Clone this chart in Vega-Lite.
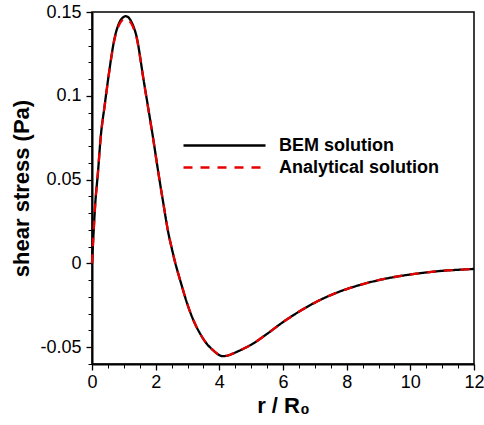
{
  "$schema": "https://vega.github.io/schema/vega-lite/v6.json",
  "width": 382,
  "height": 352,
  "autosize": {"type": "none"},
  "padding": {"left": 92, "top": 12, "right": 10, "bottom": 61},
  "background": "white",
  "config": {
    "font": "Liberation Sans",
    "view": {"stroke": "black", "strokeWidth": 1.5},
    "axis": {
      "domainColor": "black",
      "domainWidth": 2,
      "tickColor": "black",
      "tickWidth": 1.3,
      "grid": false,
      "labelFlush": false,
      "labelColor": "black",
      "labelFont": "Liberation Sans",
      "labelFontSize": 18,
      "titleColor": "black",
      "titleFont": "Liberation Sans",
      "titleFontSize": 22,
      "titleFontWeight": "bold"
    },
    "legend": {
      "labelFont": "Liberation Sans",
      "labelFontSize": 18,
      "labelFontWeight": "bold",
      "labelColor": "black",
      "labelLimit": 400
    }
  },
  "datasets": {
    "curves": [
      {"r": 0, "s": 0, "series": "BEM solution"},
      {"r": 0.04, "s": 0.015, "series": "BEM solution"},
      {"r": 0.1, "s": 0.035, "series": "BEM solution"},
      {"r": 0.19, "s": 0.055, "series": "BEM solution"},
      {"r": 0.27, "s": 0.0747, "series": "BEM solution"},
      {"r": 0.4, "s": 0.0946, "series": "BEM solution"},
      {"r": 0.54, "s": 0.1145, "series": "BEM solution"},
      {"r": 0.63, "s": 0.126, "series": "BEM solution"},
      {"r": 0.71, "s": 0.1345, "series": "BEM solution"},
      {"r": 0.8, "s": 0.1408, "series": "BEM solution"},
      {"r": 0.9, "s": 0.1452, "series": "BEM solution"},
      {"r": 1.0, "s": 0.1471, "series": "BEM solution"},
      {"r": 1.06, "s": 0.1475, "series": "BEM solution"},
      {"r": 1.13, "s": 0.147, "series": "BEM solution"},
      {"r": 1.22, "s": 0.1448, "series": "BEM solution"},
      {"r": 1.32, "s": 0.1405, "series": "BEM solution"},
      {"r": 1.41, "s": 0.1345, "series": "BEM solution"},
      {"r": 1.5, "s": 0.1247, "series": "BEM solution"},
      {"r": 1.58, "s": 0.1145, "series": "BEM solution"},
      {"r": 1.75, "s": 0.0946, "series": "BEM solution"},
      {"r": 1.92, "s": 0.0747, "series": "BEM solution"},
      {"r": 2.08, "s": 0.0547, "series": "BEM solution"},
      {"r": 2.25, "s": 0.0348, "series": "BEM solution"},
      {"r": 2.4, "s": 0.018, "series": "BEM solution"},
      {"r": 2.5, "s": 0.0095, "series": "BEM solution"},
      {"r": 2.6, "s": 0.0015, "series": "BEM solution"},
      {"r": 2.7, "s": -0.0055, "series": "BEM solution"},
      {"r": 2.8, "s": -0.012, "series": "BEM solution"},
      {"r": 2.9, "s": -0.0185, "series": "BEM solution"},
      {"r": 3.0, "s": -0.0245, "series": "BEM solution"},
      {"r": 3.2, "s": -0.0345, "series": "BEM solution"},
      {"r": 3.4, "s": -0.042, "series": "BEM solution"},
      {"r": 3.6, "s": -0.0478, "series": "BEM solution"},
      {"r": 3.8, "s": -0.0517, "series": "BEM solution"},
      {"r": 4.0, "s": -0.0547, "series": "BEM solution"},
      {"r": 4.1, "s": -0.0553, "series": "BEM solution"},
      {"r": 4.2, "s": -0.0552, "series": "BEM solution"},
      {"r": 4.4, "s": -0.054, "series": "BEM solution"},
      {"r": 4.6, "s": -0.0523, "series": "BEM solution"},
      {"r": 4.8, "s": -0.0505, "series": "BEM solution"},
      {"r": 5.0, "s": -0.0485, "series": "BEM solution"},
      {"r": 5.5, "s": -0.042, "series": "BEM solution"},
      {"r": 6.0, "s": -0.035, "series": "BEM solution"},
      {"r": 6.5, "s": -0.0288, "series": "BEM solution"},
      {"r": 7.0, "s": -0.0234, "series": "BEM solution"},
      {"r": 7.5, "s": -0.0189, "series": "BEM solution"},
      {"r": 8.0, "s": -0.0153, "series": "BEM solution"},
      {"r": 8.5, "s": -0.0124, "series": "BEM solution"},
      {"r": 9.0, "s": -0.01, "series": "BEM solution"},
      {"r": 9.5, "s": -0.0081, "series": "BEM solution"},
      {"r": 10.0, "s": -0.0066, "series": "BEM solution"},
      {"r": 10.5, "s": -0.0054, "series": "BEM solution"},
      {"r": 11.0, "s": -0.0044, "series": "BEM solution"},
      {"r": 11.5, "s": -0.0038, "series": "BEM solution"},
      {"r": 12.0, "s": -0.0033, "series": "BEM solution"},
      {"r": 0, "s": 0, "series": "Analytical solution"},
      {"r": 0.04, "s": 0.015, "series": "Analytical solution"},
      {"r": 0.1, "s": 0.035, "series": "Analytical solution"},
      {"r": 0.19, "s": 0.055, "series": "Analytical solution"},
      {"r": 0.27, "s": 0.0745, "series": "Analytical solution"},
      {"r": 0.4, "s": 0.0943, "series": "Analytical solution"},
      {"r": 0.54, "s": 0.1141, "series": "Analytical solution"},
      {"r": 0.63, "s": 0.1255, "series": "Analytical solution"},
      {"r": 0.71, "s": 0.1339, "series": "Analytical solution"},
      {"r": 0.8, "s": 0.1398, "series": "Analytical solution"},
      {"r": 0.9, "s": 0.144, "series": "Analytical solution"},
      {"r": 1.0, "s": 0.1457, "series": "Analytical solution"},
      {"r": 1.06, "s": 0.1459, "series": "Analytical solution"},
      {"r": 1.13, "s": 0.1455, "series": "Analytical solution"},
      {"r": 1.22, "s": 0.1436, "series": "Analytical solution"},
      {"r": 1.32, "s": 0.1396, "series": "Analytical solution"},
      {"r": 1.41, "s": 0.1339, "series": "Analytical solution"},
      {"r": 1.5, "s": 0.1243, "series": "Analytical solution"},
      {"r": 1.58, "s": 0.1141, "series": "Analytical solution"},
      {"r": 1.75, "s": 0.0943, "series": "Analytical solution"},
      {"r": 1.92, "s": 0.0745, "series": "Analytical solution"},
      {"r": 2.08, "s": 0.0546, "series": "Analytical solution"},
      {"r": 2.25, "s": 0.0348, "series": "Analytical solution"},
      {"r": 2.4, "s": 0.018, "series": "Analytical solution"},
      {"r": 2.5, "s": 0.0095, "series": "Analytical solution"},
      {"r": 2.6, "s": 0.0015, "series": "Analytical solution"},
      {"r": 2.7, "s": -0.0055, "series": "Analytical solution"},
      {"r": 2.8, "s": -0.012, "series": "Analytical solution"},
      {"r": 2.9, "s": -0.0185, "series": "Analytical solution"},
      {"r": 3.0, "s": -0.0245, "series": "Analytical solution"},
      {"r": 3.2, "s": -0.0345, "series": "Analytical solution"},
      {"r": 3.4, "s": -0.042, "series": "Analytical solution"},
      {"r": 3.6, "s": -0.0478, "series": "Analytical solution"},
      {"r": 3.8, "s": -0.0517, "series": "Analytical solution"},
      {"r": 4.0, "s": -0.0546, "series": "Analytical solution"},
      {"r": 4.1, "s": -0.0551, "series": "Analytical solution"},
      {"r": 4.2, "s": -0.0551, "series": "Analytical solution"},
      {"r": 4.4, "s": -0.054, "series": "Analytical solution"},
      {"r": 4.6, "s": -0.0523, "series": "Analytical solution"},
      {"r": 4.8, "s": -0.0505, "series": "Analytical solution"},
      {"r": 5.0, "s": -0.0485, "series": "Analytical solution"},
      {"r": 5.5, "s": -0.042, "series": "Analytical solution"},
      {"r": 6.0, "s": -0.035, "series": "Analytical solution"},
      {"r": 6.5, "s": -0.0288, "series": "Analytical solution"},
      {"r": 7.0, "s": -0.0234, "series": "Analytical solution"},
      {"r": 7.5, "s": -0.0189, "series": "Analytical solution"},
      {"r": 8.0, "s": -0.0153, "series": "Analytical solution"},
      {"r": 8.5, "s": -0.0124, "series": "Analytical solution"},
      {"r": 9.0, "s": -0.01, "series": "Analytical solution"},
      {"r": 9.5, "s": -0.0081, "series": "Analytical solution"},
      {"r": 10.0, "s": -0.0066, "series": "Analytical solution"},
      {"r": 10.5, "s": -0.0054, "series": "Analytical solution"},
      {"r": 11.0, "s": -0.0044, "series": "Analytical solution"},
      {"r": 11.5, "s": -0.0038, "series": "Analytical solution"},
      {"r": 12.0, "s": -0.0033, "series": "Analytical solution"}
    ]
  },
  "data": {"name": "curves"},
  "layer": [
    {
      "mark": {"type": "line", "opacity": 0},
      "encoding": {
        "x": {
          "field": "r", "type": "quantitative",
          "scale": {"domain": [0, 12], "nice": false, "zero": false},
          "axis": {
            "orient": "bottom", "title": null, "labels": false, "domain": false,
            "tickSize": 4, "tickWidth": 1,
            "values": [0.5, 1, 1.5, 2.5, 3, 3.5, 4.5, 5, 5.5, 6.5, 7, 7.5, 8.5, 9, 9.5, 10.5, 11, 11.5]
          }
        },
        "y": {
          "field": "s", "type": "quantitative",
          "scale": {"domain": [-0.06, 0.15], "nice": false, "zero": false},
          "axis": {
            "orient": "left", "title": null, "labels": false, "domain": false,
            "tickSize": 4, "tickWidth": 1,
            "values": [-0.06, -0.04, -0.03, -0.02, -0.01, 0.01, 0.02, 0.03, 0.04, 0.06, 0.07, 0.08, 0.09, 0.11, 0.12, 0.13, 0.14]
          }
        }
      }
    },
    {
      "mark": {"type": "line", "interpolate": "monotone", "strokeWidth": 2.3},
      "encoding": {
        "x": {
          "field": "r", "type": "quantitative",
          "axis": {
            "orient": "bottom", "title": "r / R₀",
            "values": [0, 2, 4, 6, 8, 10, 12],
            "labelExpr": "datum.value + ''",
            "tickSize": 6, "labelPadding": 3, "titlePadding": 4
          }
        },
        "y": {
          "field": "s", "type": "quantitative",
          "axis": {
            "orient": "left", "title": "shear stress (Pa)",
            "values": [-0.05, 0, 0.05, 0.1, 0.15],
            "labelExpr": "datum.value + ''",
            "tickSize": 6, "labelPadding": 5, "titlePadding": 6
          }
        },
        "color": {
          "field": "series", "type": "nominal",
          "scale": {"domain": ["BEM solution", "Analytical solution"], "range": ["#000000", "#e60000"]},
          "legend": {
            "title": null, "orient": "none", "legendX": 90, "legendY": 91,
            "values": ["BEM solution"],
            "symbolType": "stroke", "symbolSize": 6724, "symbolStrokeWidth": 2.5,
            "labelOffset": 12, "padding": 0
          }
        },
        "strokeDash": {
          "field": "series", "type": "nominal",
          "scale": {"domain": ["Analytical solution", "BEM solution"], "range": [[9, 8], [1, 0]]},
          "legend": {
            "title": null, "orient": "none", "legendX": 90, "legendY": 113,
            "values": ["Analytical solution"],
            "symbolType": "stroke", "symbolSize": 6724, "symbolStrokeWidth": 2.5,
            "symbolStrokeColor": "#e60000",
            "labelOffset": 12, "padding": 0
          }
        }
      }
    }
  ],
  "resolve": {"axis": {"x": "independent", "y": "independent"}}
}
